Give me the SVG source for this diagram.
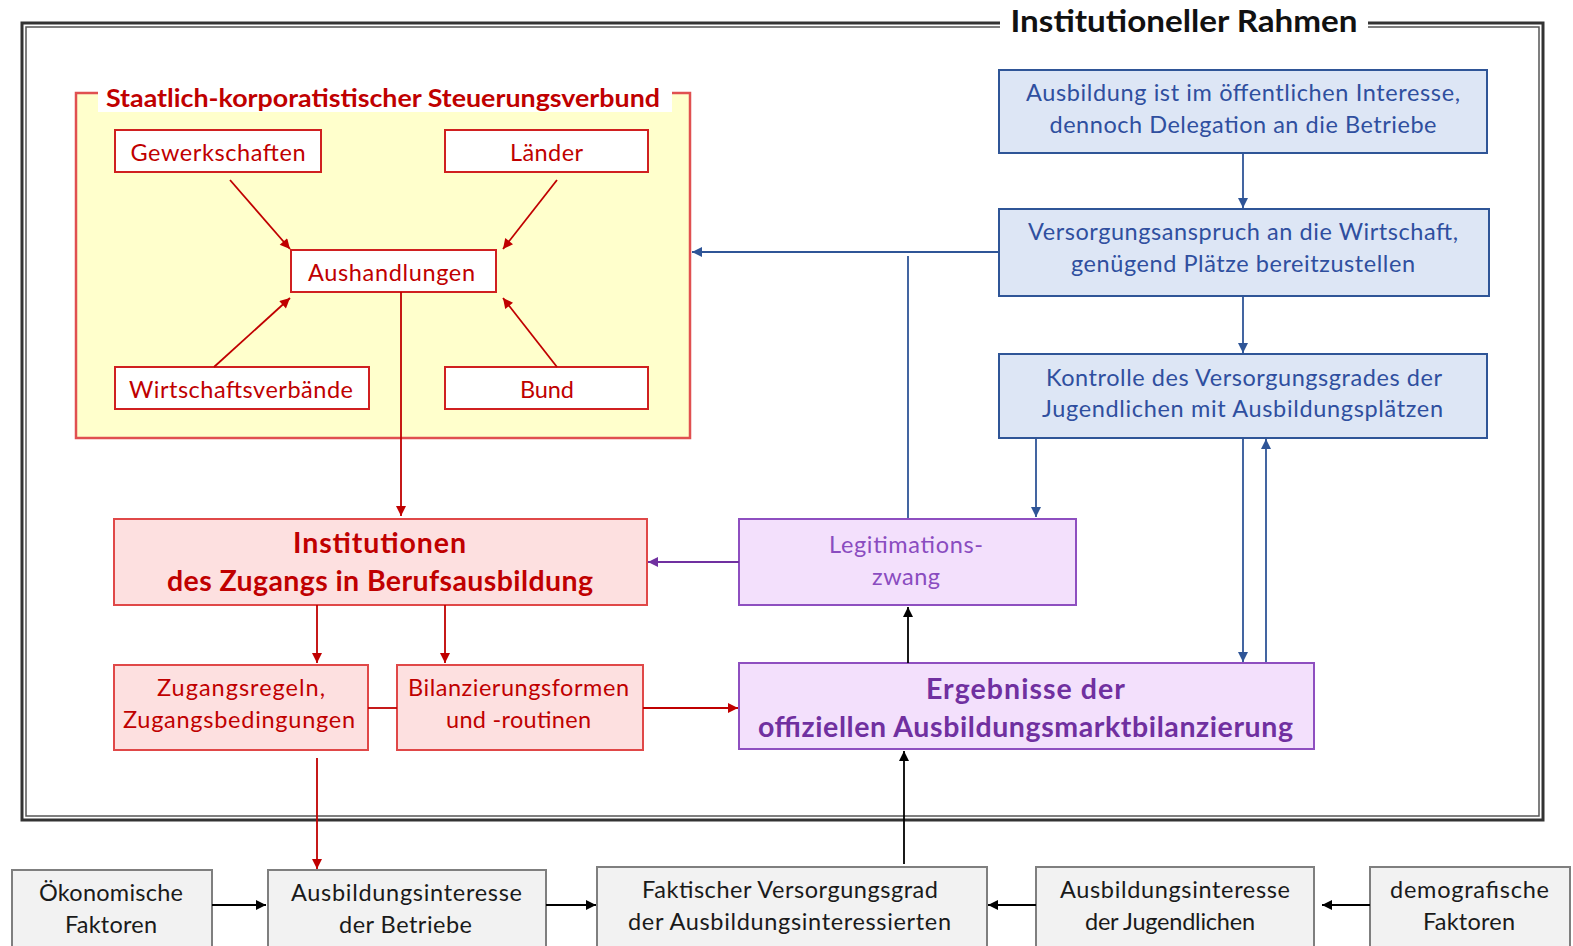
<svg xmlns="http://www.w3.org/2000/svg" width="1573" height="946" viewBox="0 0 1573 946">
<style>
text{font-family:Lato,"Open Sans","Liberation Sans",sans-serif;text-anchor:middle;dominant-baseline:central}
.red{fill:#C00000;font-size:23.5px}
.redb{fill:#C00000;font-size:28.5px;font-weight:bold}
.blue{fill:#2F4F9F;font-size:23.5px}
.pur{fill:#8A4CC0;font-size:23.5px}
.purb{fill:#7030A0;font-size:28.5px;font-weight:bold}
.blk{fill:#1a1a1a;font-size:23.5px}
.wbox{fill:#fff;stroke:#D02020;stroke-width:2}
.rbox{fill:#FDE0E0;stroke:#E04848;stroke-width:2}
.bbox{fill:#DDE6F5;stroke:#2F5597;stroke-width:2}
.pbox{fill:#F3E0FC;stroke:#8E4FC0;stroke-width:2}
.gbox{fill:#F2F2F2;stroke:#7F7F7F;stroke-width:2}
.lr{stroke:#C00000;stroke-width:1.8;fill:none}
.lb{stroke:#2F5597;stroke-width:1.8;fill:none}
.lp{stroke:#7030A0;stroke-width:1.8;fill:none}
.lk{stroke:#000;stroke-width:1.8;fill:none}
</style>
<defs>
<marker id="mr" viewBox="0 0 10 10" refX="10" refY="5" markerWidth="11" markerHeight="10" orient="auto" markerUnits="userSpaceOnUse"><path d="M0,0L10,5L0,10z" fill="#C00000"/></marker>
<marker id="mb" viewBox="0 0 10 10" refX="10" refY="5" markerWidth="11" markerHeight="10" orient="auto" markerUnits="userSpaceOnUse"><path d="M0,0L10,5L0,10z" fill="#2F5597"/></marker>
<marker id="mp" viewBox="0 0 10 10" refX="10" refY="5" markerWidth="11" markerHeight="10" orient="auto" markerUnits="userSpaceOnUse"><path d="M0,0L10,5L0,10z" fill="#7030A0"/></marker>
<marker id="mk" viewBox="0 0 10 10" refX="10" refY="5" markerWidth="11" markerHeight="10" orient="auto" markerUnits="userSpaceOnUse"><path d="M0,0L10,5L0,10z" fill="#000"/></marker>
</defs>
<rect width="1573" height="946" fill="#fff"/>

<g id="frame">
<rect x="22" y="23" width="1521" height="797" fill="none" stroke="#333" stroke-width="3"/>
<rect x="26" y="27" width="1513" height="789" fill="none" stroke="#555" stroke-width="1.5"/>
<rect x="1000" y="4" width="368" height="34" fill="#fff"/>
<text x="1184" y="20" textLength="347" lengthAdjust="spacingAndGlyphs" style="font-size:31px;font-weight:bold;fill:#111">Institutioneller  Rahmen</text>
</g>

<g id="steuerungsverbund">
<rect x="76" y="93" width="614" height="345" fill="#FFFFCC" stroke="#E05050" stroke-width="2.5"/>
<rect x="98" y="84" width="574" height="28" fill="#fff"/>
<text x="383" y="97" textLength="554" lengthAdjust="spacingAndGlyphs" style="font-size:25.5px;font-weight:bold;fill:#C00000">Staatlich-korporatistischer  Steuerungsverbund</text>
</g>

<g id="gewerkschaften"><rect class="wbox" x="115" y="130" width="206" height="42"/><text class="red" x="218" y="152" textLength="175">Gewerkschaften</text></g>
<g id="laender"><rect class="wbox" x="445" y="130" width="203" height="42"/><text class="red" x="546.5" y="152" textLength="73">Länder</text></g>
<g id="aushandlungen"><rect class="wbox" x="291" y="250" width="205" height="42"/><text class="red" x="391.5" y="272" textLength="167">Aushandlungen</text></g>
<g id="wirtschaftsverbaende"><rect class="wbox" x="115" y="367" width="254" height="42"/><text class="red" x="241" y="389" textLength="224">Wirtschaftsverbände</text></g>
<g id="bund"><rect class="wbox" x="445" y="367" width="203" height="42"/><text class="red" x="547" y="389" textLength="54">Bund</text></g>

<g id="b1"><rect class="bbox" x="999" y="70" width="488" height="83"/><text class="blue" x="1243" y="92" textLength="434">Ausbildung ist im öffentlichen Interesse,</text><text class="blue" x="1243" y="124" textLength="387">dennoch  Delegation an die Betriebe</text></g>
<g id="b2"><rect class="bbox" x="999" y="209" width="490" height="87"/><text class="blue" x="1243" y="231" textLength="430">Versorgungsanspruch an die Wirtschaft,</text><text class="blue" x="1243" y="263" textLength="344">genügend Plätze bereitzustellen</text></g>
<g id="b3"><rect class="bbox" x="999" y="354" width="488" height="84"/><text class="blue" x="1244" y="377" textLength="396">Kontrolle  des Versorgungsgrades der</text><text class="blue" x="1242.5" y="408" textLength="401">Jugendlichen mit  Ausbildungsplätzen</text></g>

<g id="legitimation"><rect class="pbox" x="739" y="519" width="337" height="86"/><text class="pur" x="906" y="544" textLength="154">Legitimations-</text><text class="pur" x="906" y="576" textLength="68">zwang</text></g>
<g id="ergebnisse"><rect class="pbox" x="739" y="663" width="575" height="86"/><text class="purb" x="1025.5" y="688" textLength="199">Ergebnisse  der</text><text class="purb" x="1025.5" y="726" textLength="535">offiziellen Ausbildungsmarktbilanzierung</text></g>

<g id="institutionen"><rect class="rbox" x="114" y="519" width="533" height="86"/><text class="redb" x="379.5" y="542" textLength="173">Institutionen</text><text class="redb" x="380" y="580" textLength="426">des Zugangs in Berufsausbildung</text></g>
<g id="zugangsregeln"><rect class="rbox" x="114" y="665" width="254" height="85"/><text class="red" x="241" y="687" textLength="168">Zugangsregeln,</text><text class="red" x="239" y="719" textLength="232">Zugangsbedingungen</text></g>
<g id="bilanzierung"><rect class="rbox" x="397" y="665" width="246" height="85"/><text class="red" x="518.5" y="687" textLength="221">Bilanzierungsformen</text><text class="red" x="518.5" y="719" textLength="145">und  -routinen</text></g>

<g id="oekonomisch"><rect class="gbox" x="12" y="870" width="200" height="80"/><text class="blk" x="111" y="892" textLength="144">Ökonomische</text><text class="blk" x="111" y="924" textLength="92">Faktoren</text></g>
<g id="interesse-betriebe"><rect class="gbox" x="268" y="870" width="278" height="80"/><text class="blk" x="406.5" y="892" textLength="231">Ausbildungsinteresse</text><text class="blk" x="405.5" y="924" textLength="133">der Betriebe</text></g>
<g id="versorgungsgrad"><rect class="gbox" x="597" y="867" width="390" height="83"/><text class="blk" x="790" y="889" textLength="296">Faktischer Versorgungsgrad</text><text class="blk" x="789.5" y="921" textLength="323">der Ausbildungsinteressierten</text></g>
<g id="interesse-jugendliche"><rect class="gbox" x="1036" y="867" width="278" height="83"/><text class="blk" x="1175" y="889" textLength="230">Ausbildungsinteresse</text><text class="blk" x="1170" y="921" textLength="170">der Jugendlichen</text></g>
<g id="demografisch"><rect class="gbox" x="1370" y="867" width="200" height="83"/><text class="blk" x="1469.5" y="889" textLength="159">demografische</text><text class="blk" x="1469" y="921" textLength="92">Faktoren</text></g>

<g id="connectors">
<line class="lr" x1="230" y1="180" x2="290" y2="249" marker-end="url(#mr)"/>
<line class="lr" x1="557" y1="180" x2="503" y2="249" marker-end="url(#mr)"/>
<line class="lr" x1="214" y1="367" x2="290" y2="298" marker-end="url(#mr)"/>
<line class="lr" x1="557" y1="367" x2="503" y2="298" marker-end="url(#mr)"/>
<line class="lr" x1="401" y1="292" x2="401" y2="516" marker-end="url(#mr)"/>
<line class="lr" x1="317" y1="605" x2="317" y2="663" marker-end="url(#mr)"/>
<line class="lr" x1="445" y1="605" x2="445" y2="663" marker-end="url(#mr)"/>
<line class="lr" x1="368" y1="708" x2="397" y2="708"/>
<line class="lr" x1="643" y1="708" x2="738" y2="708" marker-end="url(#mr)"/>
<line class="lr" x1="317" y1="758" x2="317" y2="869" marker-end="url(#mr)"/>
<line class="lb" x1="1243" y1="153" x2="1243" y2="208" marker-end="url(#mb)"/>
<line class="lb" x1="1243" y1="296" x2="1243" y2="353" marker-end="url(#mb)"/>
<line class="lb" x1="999" y1="252" x2="692" y2="252" marker-end="url(#mb)"/>
<line class="lb" x1="908" y1="256" x2="908" y2="518"/>
<line class="lb" x1="1036" y1="438" x2="1036" y2="517" marker-end="url(#mb)"/>
<line class="lb" x1="1243" y1="438" x2="1243" y2="662" marker-end="url(#mb)"/>
<line class="lb" x1="1266" y1="662" x2="1266" y2="439" marker-end="url(#mb)"/>
<line class="lp" x1="739" y1="562" x2="648" y2="562" marker-end="url(#mp)"/>
<line class="lk" x1="908" y1="663" x2="908" y2="607" marker-end="url(#mk)"/>
<line class="lk" x1="904" y1="864" x2="904" y2="751" marker-end="url(#mk)"/>
<line class="lk" x1="212" y1="905" x2="266" y2="905" marker-end="url(#mk)"/>
<line class="lk" x1="546" y1="905" x2="596" y2="905" marker-end="url(#mk)"/>
<line class="lk" x1="1036" y1="905" x2="988" y2="905" marker-end="url(#mk)"/>
<line class="lk" x1="1370" y1="905" x2="1322" y2="905" marker-end="url(#mk)"/>
</g>
</svg>
